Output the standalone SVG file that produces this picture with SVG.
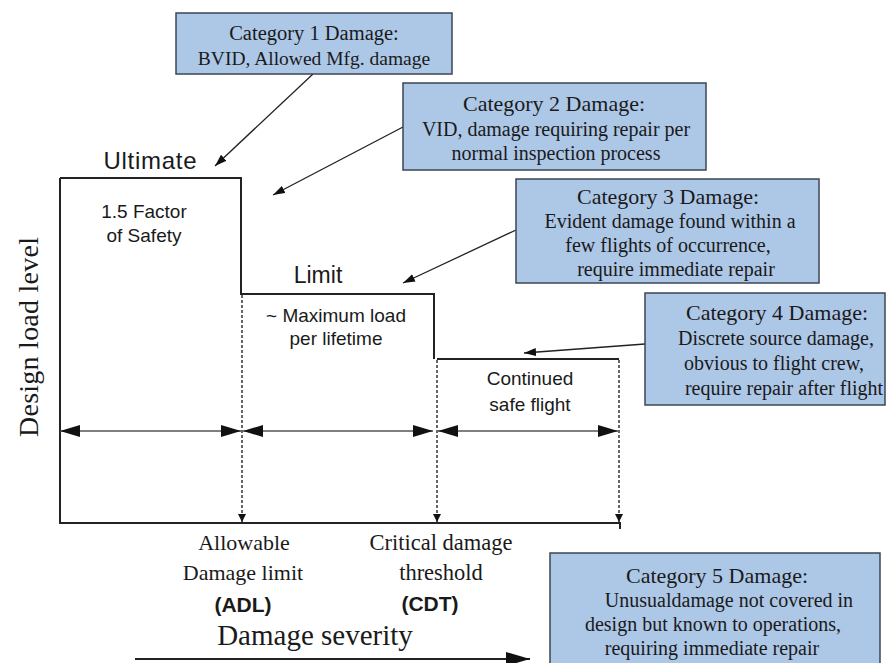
<svg xmlns="http://www.w3.org/2000/svg" width="896" height="663" viewBox="0 0 896 663">
<defs>
<style>
.box{fill:#adc7e7;stroke:#3d4656;stroke-width:1.5}
.bt{font-family:"Liberation Serif","Times New Roman",serif;fill:#1a1a1a;text-anchor:middle}
.ti{font-size:22px}
.bd{font-size:20px}
.sans{font-family:"Liberation Sans",Arial,sans-serif;fill:#1a1a1a;text-anchor:middle}
.serif{font-family:"Liberation Serif","Times New Roman",serif;fill:#1a1a1a;text-anchor:middle}
.ln{fill:none;stroke:#222;stroke-width:2}
.dash{fill:none;stroke:#333;stroke-width:1.5;stroke-dasharray:3 2}
.dim{fill:none;stroke:#555;stroke-width:1.5}
.con{fill:none;stroke:#222;stroke-width:1.3}
</style>
<marker id="ah" markerUnits="userSpaceOnUse" markerWidth="13" markerHeight="9" refX="12" refY="4" orient="auto"><path d="M0,0 L12,4 L0,8 z" fill="#111"/></marker>
<marker id="dh" markerUnits="userSpaceOnUse" markerWidth="21" markerHeight="13" refX="20" refY="6" orient="auto-start-reverse"><path d="M0,0 L20,6 L0,12 z" fill="#111"/></marker>
<marker id="vh" markerUnits="userSpaceOnUse" markerWidth="9" markerHeight="9" refX="8" refY="4" orient="auto"><path d="M0,0 L8,4 L0,8 z" fill="#111"/></marker>
<marker id="bh" markerUnits="userSpaceOnUse" markerWidth="25" markerHeight="15" refX="24" refY="7" orient="auto"><path d="M0,0 L24,7 L0,14 z" fill="#111"/></marker>
</defs>
<rect width="896" height="663" fill="#fff"/>

<g id="chart">
<path class="ln" d="M60,178 H241 V294 H434 V359"/>
<path class="ln" d="M437,359 H619"/>
<path class="ln" d="M60,178 V523 H620 V529"/>
<line class="dash" x1="242" y1="295" x2="242" y2="522" marker-end="url(#vh)"/>
<line class="dash" x1="437" y1="360" x2="437" y2="522" marker-end="url(#vh)"/>
<line class="dash" x1="619" y1="360" x2="619" y2="522" marker-end="url(#vh)"/>
<line class="dim" x1="60" y1="431" x2="241" y2="431" marker-start="url(#dh)" marker-end="url(#dh)"/>
<line class="dim" x1="243" y1="431" x2="433" y2="431" marker-start="url(#dh)" marker-end="url(#dh)"/>
<line class="dim" x1="438" y1="431" x2="618" y2="431" marker-start="url(#dh)" marker-end="url(#dh)"/>
<text class="sans" x="150" y="169" font-size="24" textLength="93">Ultimate</text>
<text class="sans" x="144" y="218" font-size="19">1.5 Factor</text>
<text class="sans" x="144" y="242" font-size="19">of Safety</text>
<text class="sans" x="318" y="283" font-size="23">Limit</text>
<text class="sans" x="336" y="322" font-size="19">~ Maximum load</text>
<text class="sans" x="336" y="345" font-size="19">per lifetime</text>
<text class="sans" x="530" y="385" font-size="19">Continued</text>
<text class="sans" x="530" y="411" font-size="19">safe flight</text>
<text class="serif" transform="translate(38,337) rotate(-90)" font-size="28" textLength="200">Design load level</text>
<text class="serif" x="244" y="550" font-size="22">Allowable</text>
<text class="serif" x="243" y="580" font-size="22">Damage limit</text>
<text class="sans" x="243" y="612" font-size="21" font-weight="bold">(ADL)</text>
<text class="serif" x="441" y="550" font-size="22.5">Critical damage</text>
<text class="serif" x="441" y="580" font-size="22.5">threshold</text>
<text class="sans" x="430" y="611" font-size="21" font-weight="bold">(CDT)</text>
<text class="serif" x="315" y="645" font-size="29">Damage severity</text>
<line class="ln" x1="135" y1="659" x2="530" y2="659" marker-end="url(#bh)"/>
</g>

<g id="connectors">
<line class="con" x1="313" y1="74" x2="215" y2="166" marker-end="url(#ah)"/>
<line class="con" x1="403" y1="127" x2="273" y2="195" marker-end="url(#ah)"/>
<line class="con" x1="516" y1="230" x2="403" y2="283" marker-end="url(#ah)"/>
<line class="con" x1="645" y1="344" x2="524" y2="353" marker-end="url(#ah)"/>
</g>

<g id="cat1">
<rect class="box" x="176" y="13" width="276" height="61"/>
<text class="bt" x="314" y="40" font-size="20.5">Category 1 Damage:</text>
<text class="bt" x="314" y="65" font-size="19.5">BVID, Allowed Mfg. damage</text>
</g>
<g id="cat2">
<rect class="box" x="403" y="83" width="303" height="87"/>
<text class="bt ti" x="554" y="111">Category 2 Damage:</text>
<text class="bt bd" x="556" y="136">VID, damage requiring repair per</text>
<text class="bt bd" x="556" y="160">normal inspection process</text>
</g>
<g id="cat3">
<rect class="box" x="516" y="179" width="303" height="104"/>
<text class="bt ti" x="668" y="204">Category 3 Damage:</text>
<text class="bt bd" x="670" y="228">Evident damage found within a</text>
<text class="bt bd" x="668" y="252">few flights of occurrence,</text>
<text class="bt bd" x="676" y="276">require immediate repair</text>
</g>
<g id="cat4">
<rect class="box" x="645" y="293" width="240" height="112"/>
<text class="bt ti" x="777" y="320">Category 4 Damage:</text>
<text class="bt bd" x="776" y="345">Discrete source damage,</text>
<text class="bt bd" x="774" y="370">obvious to flight crew,</text>
<text class="bt bd" x="784" y="395">require repair after flight</text>
</g>
<g id="cat5">
<rect class="box" x="550" y="553" width="330" height="120"/>
<text class="bt ti" x="717" y="583">Category 5 Damage:</text>
<text class="bt bd" x="729" y="607">Unusualdamage not covered in</text>
<text class="bt bd" x="713" y="631">design but known to operations,</text>
<text class="bt bd" x="712" y="655">requiring immediate repair</text>
</g>
</svg>
